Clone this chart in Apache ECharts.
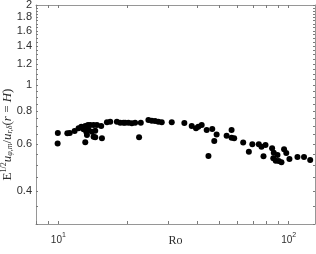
<!DOCTYPE html>
<html>
<head>
<meta charset="utf-8">
<script src="https://cdn.jsdelivr.net/npm/echarts@6/dist/echarts.min.js"></script>
<style>
html,body{margin:0;padding:0;background:#fff;}
#chart{width:316px;height:254px;}
</style>
</head>
<body>
<div id="chart"></div>
<script>
const roValues = [9.95,9.93,10.94,11.21,11.77,12.24,12.58,12.87,13.09,13.45,
  13.76,14.22,14.71,15.35,13.22,13.53,13.99,14.46,13.31,14.22,
  13.09,14.46,15.46,16.25,16.80,17.95,18.55,19.17,19.50,20.15,
  20.84,21.54,22.80,22.41,24.60,25.44,26.29,27.18,28.11,31.06,
  35.23,37.92,39.58,40.5,41.9,44.04,46.56,48.64,47.51,44.83,
  53.75,56.48,56.48,57.97,63.42,67.12,69.5,74.14,76.17,79.27,
  77.7,84.68,86.1,85.7,89.35,87.8,90.5,92.98,95.43,97.55,
  100.7,109.1,116.5,123.9];
const ratioValues = [0.660,0.603,0.658,0.660,0.671,0.687,0.697,0.681,0.701,0.707,
  0.707,0.707,0.707,0.701,0.667,0.677,0.667,0.673,0.648,0.639,
  0.609,0.636,0.630,0.724,0.728,0.728,0.721,0.721,0.721,0.721,
  0.718,0.721,0.721,0.636,0.739,0.734,0.732,0.728,0.724,0.724,
  0.719,0.701,0.687,0.697,0.707,0.677,0.683,0.652,0.616,0.541,
  0.645,0.677,0.633,0.630,0.608,0.561,0.599,0.598,0.586,0.595,
  0.539,0.578,0.556,0.530,0.545,0.519,0.518,0.512,0.573,0.555,
  0.527,0.536,0.536,0.522];
const xTickValues = [8,9,10,20,30,40,50,60,70,80,90,100];
const xLabelValues = [10,100];
const yLabelValues = [0.4,0.6,0.8,1,1.2,1.4,1.6,1.8,2];
const yTickValues = [0.3,0.35,0.4,0.45,0.5,0.55,0.6,0.65,0.7,0.75,0.8,0.85,0.9,0.95,1,
  1.05,1.1,1.15,1.2,1.25,1.3,1.35,1.4,1.45,1.5,1.55,1.6,1.65,1.7,1.75,1.8,1.85,1.9,1.95,2];

const axisColor = '#969696';
const tickColor = '#7a7a7a';
const textColor = '#2e2e2e';
const data = roValues.map((r, i) => [r, ratioValues[i]]);

const chart = echarts.init(document.getElementById('chart'), null, {renderer: 'canvas'});
function xAxisBase() {
  return {
    type: 'log', logBase: 10, min: 8, max: 130,
    axisLine: {show: true, onZero: false, lineStyle: {color: axisColor, width: 1}},
    axisTick: {show: true, inside: true, length: 3, customValues: xTickValues, lineStyle: {color: tickColor, width: 1}},
    splitLine: {show: false}
  };
}
function yAxisBase() {
  return {
    type: 'log', logBase: 10, min: 0.3, max: 2,
    axisLine: {show: true, onZero: false, lineStyle: {color: axisColor, width: 1}},
    axisTick: {show: true, inside: true, length: 2, customValues: yTickValues, lineStyle: {color: tickColor, width: 1}},
    splitLine: {show: false}
  };
}
chart.setOption({
  animation: false,
  grid: {left: 36, right: 1, top: 5, bottom: 30, containLabel: false, outerBoundsMode: 'none'},
  xAxis: [
    Object.assign(xAxisBase(), {
      position: 'bottom',
      name: 'Ro', nameLocation: 'middle', nameGap: 11, nameMoveOverlap: false,
      nameTextStyle: {fontFamily: 'Liberation Serif', fontSize: 12, color: textColor},
      axisLabel: {
        show: true, customValues: xLabelValues, margin: 8,
        formatter: v => '{b|10}{s|' + Math.round(Math.log10(v)) + '}',
        rich: {
          b: {fontFamily: 'Liberation Sans', fontSize: 10, color: textColor},
          s: {fontFamily: 'Liberation Sans', fontSize: 7, color: textColor, padding: [0, 0, 9, 0]}
        }
      }
    }),
    Object.assign(xAxisBase(), {position: 'top', axisLabel: {show: false}})
  ],
  yAxis: [
    Object.assign(yAxisBase(), {
      position: 'left',
      name: '{n|E}{sup|1/2}{i|u}{sub|φ,m}{n|/}{i|u}{sub|r,δ}{n|(}{i|r}{n| = }{i|H}{n|)}',
      nameLocation: 'middle', nameRotate: 90, nameGap: 21, nameMoveOverlap: false,
      nameTextStyle: {
        padding: [0, 40, 0, 0],
        rich: {
          n: {fontFamily: 'Liberation Serif', fontSize: 13, color: textColor},
          i: {fontFamily: 'Liberation Serif', fontStyle: 'italic', fontSize: 13, color: textColor},
          sup: {fontFamily: 'Liberation Serif', fontSize: 8, color: textColor, padding: [0, 0, 7, 0]},
          sub: {fontFamily: 'Liberation Serif', fontStyle: 'italic', fontSize: 8, color: textColor, padding: [5, 0, 0, 0]}
        }
      },
      axisLabel: {
        show: true, customValues: yLabelValues, margin: 4,
        fontFamily: 'Liberation Sans', fontSize: 11, color: textColor,
        formatter: v => String(Math.round(v * 10) / 10)
      }
    }),
    Object.assign(yAxisBase(), {position: 'right', axisLabel: {show: false}})
  ],
  series: [{
    type: 'scatter',
    xAxisIndex: 0, yAxisIndex: 0,
    data: data,
    symbol: 'circle', symbolSize: 6,
    itemStyle: {color: '#000', opacity: 1},
    emphasis: {disabled: true}
  }]
});
</script>
</body>
</html>
